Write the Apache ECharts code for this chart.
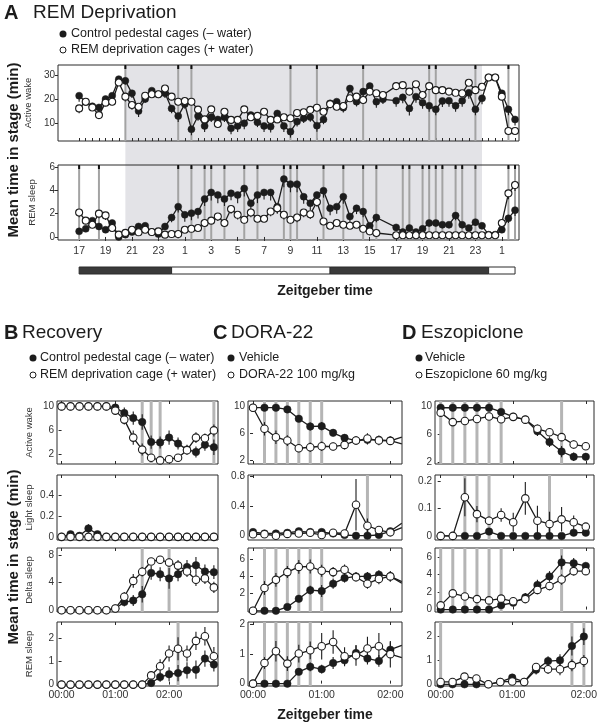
<!DOCTYPE html>
<html><head><meta charset="utf-8">
<script src="https://cdn.jsdelivr.net/npm/echarts@6/dist/echarts.min.js"></script>
<style>html,body{margin:0;padding:0;background:#fff}#c{width:600px;height:727px}</style>
</head><body><div id="c"></div>
<script>
const FONT = '"Liberation Sans", Arial, Helvetica, sans-serif';

// ================= DATA =================
// Panel A: 30-min bins starting at ZT17 (hours continue past 24 into the next days)
const aStartHour = 17;
const aBinHours = 0.5;
const aWakeCtrl = [21.4,18.8,17,16.5,20,21.4,28.3,27.6,22.4,15,20,23.5,22,22.4,16.1,12.9,17.9,7.4,12.9,8.8,12.4,11.5,12.4,7.8,8.8,9.9,13.3,10.3,8.8,8.5,14,8.8,6.4,10.6,12,12.5,8.9,11.5,18.2,18.9,16.4,24.4,18.9,23.1,25.4,18.9,19.9,null,19.3,20.7,16.1,21,18.5,17.2,15.7,19.2,19.3,17.2,19.3,22.6,15.7,20.3,29,29,22.4,15.7,11.5];
const aWakeCtrlErr = [2.5,1.5,1.5,2,2,1.5,1.5,1.5,2,2.5,1.5,1.5,1.5,2,2,2.5,2,2.5,2,2.5,2,2,2,2.5,2.5,2.5,2,2,2.5,2.5,2,2.5,2.5,2,2,2,2.5,2,2,2,2,2,2,2,2,2.5,2,0,2.5,2.5,3,2.5,2.5,2.5,2.5,2.5,2.5,2.5,2.5,2.5,2.5,2.5,1,1,2.5,2.5,2.5];
const aWakeREMD = [16.1,18.9,16.5,13.3,18.5,18.9,26.9,21,17.5,16.8,21.4,22,22,24.4,21,18.9,19.2,18.9,15.6,11.5,15.7,9.6,14.7,11.3,11.3,15.7,12.4,13,14.7,11.3,11.5,12.4,12,14.2,14.5,15.5,16.4,14.7,17.9,16.8,17.1,20.3,21,19.6,23.1,22.4,21.7,null,25.4,25.8,23.1,26.2,21.7,25.4,23.7,23.7,23.1,22.6,22.4,26.8,23.7,25.1,29,29,21,6.7,6.7];
const aWakeREMDErr = [2,1.5,1,1.5,1.5,1.5,1.5,2,2,1.5,1.5,1,1,1,1.5,1.5,1,1.5,1.5,2,1.5,1.5,1.5,1.5,1.5,1.5,1.5,1.5,1.5,1.5,1.5,1.5,1.5,1.5,1.5,1.5,1.5,1.5,1.5,1.5,1.5,1.5,1.5,1.5,1.5,1.5,1.5,0,1,1,1.5,1,1.5,1,1,1,1,1,1,1,1,1,1,1,1.5,1,1];
const aRemCtrl = [0.48,0.7,1.4,0.9,0.62,1.2,0,0.2,0.42,0.9,0.96,0.42,0.25,0.9,1.67,2.6,1.9,2.04,2.18,3.26,3.82,3.6,3.26,3.74,3.6,4.16,2.9,3.6,3.82,3.82,2.6,4.96,4.53,4.53,3.45,2.9,3.6,3.97,2.46,2.6,3.45,1.76,2.46,2.18,0.96,1.67,null,null,0.82,0.42,0.77,0.42,0.7,1.2,1.2,1.05,1.05,1.84,1.05,0.77,1.27,0.96,0.2,0.2,0.62,1.6,2.3];
const aRemCtrlErr = [0.2,0.2,0.3,0.3,0.2,0.3,0,0.1,0.2,0.3,0.3,0.2,0.1,0.3,0.4,0.5,0.6,0.6,0.6,0.6,0.7,0.7,0.6,0.6,0.7,0.7,0.6,0.7,0.6,0.7,0.6,0.7,0.7,0.7,0.6,0.6,0.6,0.6,0.6,0.6,0.6,0.5,0.5,0.5,0.3,0.4,0,0,0.3,0.2,0.3,0.2,0.3,0.3,0.3,0.3,0.3,0.4,0.3,0.2,0.3,0.3,0.1,0.1,0.2,0.4,0.5];
const aRemREMD = [2.1,1.4,1.05,2.0,1.85,0.77,0.2,0.35,0.62,0.4,0.62,0.42,0.48,0.2,0.25,0.25,0.62,0.7,0.77,1.2,1.4,1.76,1.2,2.4,1.9,1.47,2.1,1.56,1.56,2.18,2.46,1.9,1.47,1.67,2.1,1.95,3.0,1.33,0.96,1.2,1.05,0.96,1.05,0.7,0.48,0.34,null,null,0.15,0.15,0.15,0.15,0.15,0.15,0.15,0.15,0.15,0.15,0.15,0.15,0.15,0.15,0.15,0.15,1.2,3.74,4.45];
const aRemREMDErr = [0.4,0.3,0.3,0.4,0.4,0.2,0.1,0.1,0.2,0.1,0.2,0.1,0.1,0.1,0.1,0.1,0.2,0.2,0.2,0.3,0.3,0.4,0.3,0.4,0.4,0.3,0.4,0.3,0.3,0.4,0.4,0.4,0.3,0.4,0.4,0.4,0.4,0.3,0.2,0.3,0.2,0.2,0.2,0.2,0.1,0.1,0,0,0.05,0.05,0.05,0.05,0.05,0.05,0.05,0.05,0.05,0.05,0.05,0.05,0.05,0.05,0.05,0.05,0.3,0.5,0.5];
const aWakeSigBins = [7,15,17,32,36,43,53,54,60,65];
const aRemSigBins = [0,3,15,17,19,20,22,25,27,31,32,33,37,40,43,45,49,50,52,53,54,55,57,58,60,65,66];
const aDeprivationHours = [20.5, 47.5];
const aLightDark = [[17,24,1],[24,36,0],[36,48,1],[48,50,0]]; // 1 = dark
const aHourLabels = [17,19,21,23,25,27,29,31,33,35,37,39,41,43,45,47,49];

// Panel B: Recovery, 10-min bins
const bMin = [0,10,20,30,40,50,60,70,80,90,100,110,120,130,140,150,160,170];
const bWakeCtrl = [10,10,10,10,10,10,9.8,8.9,8.05,7.4,4.05,4.0,4.8,3.8,2.8,2.4,3.6,3.2];
const bWakeCtrlErr = [0,0,0,0,0,0,0.3,0.9,1.1,1.3,1.1,1.0,1.2,1.0,0.8,0.9,1.0,1.3];
const bWakeREMD = [10,10,10,10,10,10,9.3,7.8,4.8,2.8,1.45,1.0,1.2,1.45,2.7,4.8,4.7,6.0];
const bWakeREMDErr = [0,0,0,0,0,0,0.3,0.8,1.2,1.0,0.6,0.4,0.4,0.5,0.7,0.9,0.8,1.0];
const bLightCtrl = [0,0.025,0.01,0.08,0.025,0,0,0,0,0,0,0,0,0,0,0,0,0];
const bLightCtrlErr = [0,0.01,0,0.04,0.015,0,0,0,0,0,0,0,0,0,0,0,0,0];
const bLightREMD = [0,0,0,0,0,0,0,0,0,0,0,0,0,0,0,0,0,0];
const bLightREMDErr = [0,0,0,0,0,0,0,0,0,0,0,0,0,0,0,0,0,0];
const bDeltaCtrl = [0,0,0,0,0,0,0.25,1.17,1.4,2.3,5.4,5.2,4.6,5.2,6.25,6.5,5.6,5.5];
const bDeltaCtrlErr = [0,0,0,0,0,0,0.2,0.6,0.8,1.2,1.0,1.0,1.5,1.0,1.0,1.2,1.0,1.0];
const bDeltaREMD = [0,0,0,0,0,0,0.25,1.95,4.24,5.56,7.05,7.3,6.9,6.45,5.6,4.4,4.6,3.3];
const bDeltaREMDErr = [0,0,0,0,0,0,0.2,0.7,1.0,0.7,0.5,0.5,0.6,0.8,0.8,0.9,0.8,0.8];
const bRemCtrl = [0,0,0,0,0,0,0,0,0,0,0.07,0.33,0.45,0.5,0.62,0.65,1.13,0.87];
const bRemCtrlErr = [0,0,0,0,0,0,0,0,0,0,0.05,0.2,0.3,0.35,0.35,0.4,0.35,0.3];
const bRemREMD = [0,0,0,0,0,0,0,0,0,0,0.4,0.8,1.35,1.56,1.35,1.9,2.1,1.23];
const bRemREMDErr = [0,0,0,0,0,0,0,0,0,0,0.1,0.3,0.35,0.5,0.35,0.4,0.4,0.4];
const bSig = {wake:[90,100,110,170], light:[], delta:[90,120], rem:[130]};

// Panel C: DORA-22 (last bin runs off the right edge)
const cMin = [0,10,20,30,40,50,60,70,80,90,100,110,120,130];
const cWakeVeh = [9.8,9.8,9.8,9.55,8.15,7.0,7.05,6.05,5.3,4.9,5.0,5.0,4.9,4.4];
const cWakeVehErr = [0,0,0,0.3,0.5,0.6,0.6,0.5,0.5,0.6,0.7,0.6,0.6,0];
const cWakeDora = [9.8,6.65,5.4,4.9,3.75,3.9,4.05,4.0,4.25,4.9,5.2,4.9,4.85,5.4];
const cWakeDoraErr = [0,1.0,1.0,0.8,0.6,0.7,0.7,0.6,0.7,0.6,0.8,0.7,0.6,0];
const cLightVeh = [0.05,0.03,0.03,0.04,0.06,0.05,0.05,0.03,0.01,0,0,0.01,0.06,0.17];
const cLightVehErr = [0.01,0.01,0.01,0.01,0.02,0.01,0.02,0.01,0.01,0,0,0.01,0.03,0];
const cLightDora = [0.02,0.02,0,0.025,0.03,0.04,0.01,0.04,0.03,0.42,0.135,0.077,0.046,0.11];
const cLightDoraErr = [0.01,0.01,0,0.01,0.01,0.01,0.01,0.02,0.02,0.35,0.1,0.05,0.03,0];
const cDeltaVeh = [0,0,0,0.45,1.4,2.4,2.3,3.15,3.8,4.0,4.0,4.2,4.0,3.4];
const cDeltaVehErr = [0,0,0,0.2,0.4,0.5,0.7,0.6,0.5,0.5,0.5,0.5,0.6,0];
const cDeltaDora = [0,2.65,3.6,4.5,5.1,5.15,4.65,4.5,4.77,3.9,3.15,3.7,4.0,3.2];
const cDeltaDoraErr = [0,0.8,0.8,0.7,0.8,0.8,0.7,0.6,0.6,0.5,0.6,0.6,0.6,0];
const cRemVeh = [0,0,0,0,0.4,0.57,0.49,0.7,0.79,1.04,0.85,0.77,1.15,1.3];
const cRemVehErr = [0,0,0,0,0.1,0.15,0.15,0.2,0.2,0.25,0.2,0.2,0.25,0];
const cRemDora = [0,0.7,1.1,0.68,1.02,1.13,1.27,1.41,0.93,0.96,1.19,1.27,1.0,0.88];
const cRemDoraErr = [0,0.2,0.35,0.25,0.3,0.3,0.45,0.4,0.3,0.35,0.4,0.45,0.45,0];
const cSig = {wake:[10,20,30,40,50,60], light:[100], delta:[10,20,30,40,50,60], rem:[10,20,30,40,50]};

// Panel D: Eszopiclone
const dMin = [0,10,20,30,40,50,60,70,80,90,100,110,120];
const dWakeVeh = [9.8,9.8,9.8,9.8,9.8,9.2,8.5,8.1,6.45,4.9,3.55,2.8,2.8];
const dWakeVehErr = [0,0,0,0,0,0.3,0.4,0.5,0.7,0.7,0.8,0.6,0.5];
const dWakeEsz = [9.1,7.75,7.9,8.2,8.55,8.15,8.5,8.1,6.8,6.3,5.6,4.55,4.3];
const dWakeEszErr = [0.3,0.4,0.3,0.3,0.3,0.3,0.4,0.5,0.6,0.6,0.6,0.6,0.4];
const dLightVeh = [0,0,0,0,0.016,0,0,0,0,0,0,0.012,0.012];
const dLightVehErr = [0,0,0,0,0.01,0,0,0,0,0,0,0.008,0.008];
const dLightEsz = [0,0,0.142,0.08,0.056,0.077,0.05,0.138,0.056,0.044,0.061,0.05,0.034];
const dLightEszErr = [0,0,0.07,0.03,0.015,0.025,0.035,0.06,0.055,0.045,0.045,0.025,0.012];
const dDeltaVeh = [0,0,0,0,0,0.5,0.78,1.4,2.8,3.8,5.4,5.3,5.0];
const dDeltaVehErr = [0,0,0,0,0,0.2,0.3,0.5,0.6,0.6,0.8,0.6,0.4];
const dDeltaEsz = [0.48,1.85,1.5,1.2,1.05,1.25,0.95,1.2,2.25,2.7,3.45,4.4,4.4];
const dDeltaEszErr = [0.1,0.3,0.3,0.3,0.3,0.3,0.3,0.4,0.5,0.5,0.6,0.5,0.4];
const dRemVeh = [0,0,0,0,0,0.1,0.28,0.1,0.61,0.97,1.0,1.6,1.99];
const dRemVehErr = [0,0,0,0,0,0.05,0.15,0.05,0.2,0.2,0.25,0.4,0.35];
const dRemEsz = [0.1,0.1,0.32,0.24,0,0.1,0.12,0.1,0.72,0.63,0.63,0.8,0.97];
const dRemEszErr = [0.05,0.05,0.08,0.08,0,0.05,0.05,0.05,0.15,0.2,0.25,0.25,0.25];
const dSig = {wake:[0,10,20,30,40,50,100], light:[20,30,40,90], delta:[0,10,20,30,40,50,100], rem:[0,110,120]};

const clockTicks = [0,60,120];

// ================= BUILD =================
const grids=[], xAxis=[], yAxis=[], series=[];
const INK = '#1c1c1c';

function panel(g){
  const gi = grids.length;
  grids.push({left:g.left, top:g.top, width:g.width, height:g.height, show:!g.hidden,
    borderColor:'#2b2b2b', borderWidth:1, backgroundColor:'transparent'});
  const xi = xAxis.length;
  xAxis.push({type:'value', gridIndex:gi, min:g.xmin, max:g.xmax, show:!g.hidden, position:'bottom',
    axisLine:{show:false}, splitLine:{show:false},
    axisTick:{show:!!g.xTicks, inside:g.tickInside!==false, length:g.tickLen||3, customValues:g.xTicks||[], lineStyle:{color:'#2b2b2b',width:1}},
    axisLabel:{show:!!g.xLabels, customValues:g.xLabels||[], formatter:g.xFmt, color:'#333', fontSize:10.5, fontFamily:FONT, margin:g.labelMargin||5}});
  if (g.topTicks) {
    xAxis.push({type:'value', gridIndex:gi, min:g.xmin, max:g.xmax, position:'top',
      axisLine:{show:false}, splitLine:{show:false},
      axisTick:{show:true, inside:true, length:3, customValues:g.topTicks, lineStyle:{color:'#2b2b2b'}},
      axisLabel:{show:false}});
  }
  const yi = yAxis.length;
  yAxis.push({type:'value', gridIndex:gi, min:g.ymin, max:g.ymax, show:!g.hidden,
    axisLine:{show:false}, splitLine:{show:false},
    axisTick:{show:!!g.yTicks, length:3, customValues:g.yTicks||[], lineStyle:{color:'#2b2b2b'}},
    axisLabel:{show:!!g.yTicks, customValues:g.yTicks||[], color:'#333', fontSize:10, fontFamily:FONT, margin:3},
    name:g.yName||'', nameLocation:'middle', nameRotate:90, nameGap:g.nameGap||24,
    nameTextStyle:{fontSize:9.5, color:'#333', fontFamily:FONT}});
  return {xi, yi};
}

function line(ax, xs, ys, filled, trailingNoSymbol, size){
  series.push({type:'line', xAxisIndex:ax.xi, yAxisIndex:ax.yi, z:filled?4:5,
    data: xs.map((x,i)=>{ const it={value:[x, ys[i]==null?'-':ys[i]]}; if(trailingNoSymbol && i===xs.length-1) it.symbol='none'; return it; }),
    connectNulls:true, symbol:'circle', symbolSize:size||7.5, showSymbol:true, clip:true, silent:true, animation:false,
    lineStyle:{color:INK, width:1.3},
    itemStyle: filled ? {color:INK, borderColor:INK, borderWidth:0.5} : {color:'#fff', borderColor:INK, borderWidth:1.1}});
}

// down = true draws only the lower half of the error bar
function errs(ax, xs, ys, es, down){
  const data = xs.map((x,i)=>[x, ys[i], es[i]]).filter(d=>d[1]!=null && d[2]>0);
  series.push({type:'custom', xAxisIndex:ax.xi, yAxisIndex:ax.yi, z:3, silent:true, animation:false, clip:true,
    data, encode:{x:0, y:1},
    renderItem:(p,api)=>{ const x=api.value(0), y=api.value(1), e=api.value(2);
      const a=api.coord([x,y-e]), b=api.coord([x, down ? y : y+e]);
      return {type:'line', shape:{x1:a[0],y1:a[1],x2:b[0],y2:b[1]}, style:{stroke:INK, lineWidth:1.1}}; }});
}

function sig(ax, xs, opt){
  if(!xs.length) return;
  series.push({type:'custom', xAxisIndex:ax.xi, yAxisIndex:ax.yi, z:1, silent:true, animation:false, clip:false,
    data: xs.map(x=>[x,0]), encode:{x:0, y:1},
    renderItem:(p,api)=>{ const cs=p.coordSys; const px=api.coord([api.value(0),0])[0];
      const ch=[{type:'rect', shape:{x:px-opt.w/2, y:cs.y, width:opt.w, height:cs.height}, style:{fill:opt.color}}];
      if(opt.cap) ch.push({type:'rect', shape:{x:px-1, y:cs.y, width:2, height:4}, style:{fill:'#111'}});
      return {type:'group', children:ch}; }});
}

// ---- Panel A ----
const aHours = aWakeCtrl.map((_,i)=>aStartHour + i*aBinHours);
const aX = {xmin:15.4, xmax:50.3, left:58, width:461};
const halfHourTicks = aHours.slice();
const aFmt = v => String(v % 24);

const aShade = panel({...aX, top:65, height:175, hidden:true, ymin:0, ymax:1});
series.push({type:'custom', xAxisIndex:aShade.xi, yAxisIndex:aShade.yi, z:-10, silent:true, animation:false,
  data:[aDeprivationHours], encode:{x:[0,1]},
  renderItem:(p,api)=>{ const cs=p.coordSys; const a=api.coord([api.value(0),0])[0], b=api.coord([api.value(1),0])[0];
    return {type:'rect', shape:{x:a, y:cs.y, width:b-a, height:cs.height}, style:{fill:'#e3e3e7'}}; }});

const aW = panel({...aX, top:65, height:76, ymin:2.5, ymax:34.2, yTicks:[10,20,30], xTicks:halfHourTicks, tickInside:true, tickLen:3, yName:'Active wake', nameGap:21});
sig(aW, aWakeSigBins.map(i=>aHours[i]), {w:2, color:'#a3a3a3', cap:true});
errs(aW, aHours, aWakeCtrl, aWakeCtrlErr, true);
errs(aW, aHours, aWakeREMD, aWakeREMDErr, true);
line(aW, aHours, aWakeCtrl, true, false, 7);
line(aW, aHours, aWakeREMD, false, false, 7);

const aR = panel({...aX, top:165, height:75, ymin:-0.26, ymax:6.17, yTicks:[0,2,4,6], xTicks:aHourLabels, tickInside:false, tickLen:4, xLabels:aHourLabels, xFmt:aFmt, labelMargin:6, yName:'REM sleep', nameGap:21});
sig(aR, aRemSigBins.map(i=>aHours[i]), {w:2, color:'#a3a3a3', cap:true});
errs(aR, aHours, aRemCtrl, aRemCtrlErr, true);
errs(aR, aHours, aRemREMD, aRemREMDErr, true);
line(aR, aHours, aRemCtrl, true, false, 7);
line(aR, aHours, aRemREMD, false, false, 7);

const aLD = panel({...aX, top:267, height:7, hidden:true, ymin:0, ymax:1});
series.push({type:'custom', xAxisIndex:aLD.xi, yAxisIndex:aLD.yi, z:2, silent:true, animation:false,
  data:aLightDark, encode:{x:[0,1]},
  renderItem:(p,api)=>{ const cs=p.coordSys; const a=api.coord([api.value(0),0])[0], b=api.coord([api.value(1),0])[0];
    return {type:'rect', shape:{x:a, y:cs.y, width:b-a, height:cs.height}, style:{fill: api.value(2)?'#3a3a3a':'#fff', stroke:'#2b2b2b', lineWidth:1}}; }});

// ---- Panels B, C, D ----
const rows = [{top:401,height:63},{top:475,height:65},{top:548,height:64},{top:622,height:64}];
const clockFmt = m => '0' + Math.floor(m/60) + ':00';
const sigStyle = {w:3, color:'#b5b5b5', cap:false};

function column(cfg){
  cfg.stages.forEach((st, r)=>{
    const last = r === cfg.stages.length-1;
    const ax = panel({left:cfg.left, width:cfg.width, top:rows[r].top, height:rows[r].height,
      xmin:cfg.xmin, xmax:cfg.xmax, ymin:st.ymin, ymax:st.ymax, yTicks:st.ticks,
      xTicks:clockTicks, tickInside:true, topTicks:clockTicks,
      xLabels: last ? clockTicks : null, xFmt: clockFmt, labelMargin:4,
      yName: cfg.names ? st.name : '', nameGap:23});
    sig(ax, st.sig, sigStyle);
    errs(ax, cfg.x, st.a, st.ae);
    errs(ax, cfg.x, st.b, st.be);
    line(ax, cfg.x, st.a, true, cfg.trailing);
    line(ax, cfg.x, st.b, false, cfg.trailing);
  });
}

column({left:57, width:161, xmin:-5.1, xmax:174.6, x:bMin, names:true, stages:[
  {name:'Active wake', ymin:0.4, ymax:10.9, ticks:[2,6,10], a:bWakeCtrl, ae:bWakeCtrlErr, b:bWakeREMD, be:bWakeREMDErr, sig:bSig.wake},
  {name:'Light sleep', ymin:-0.03, ymax:0.59, ticks:[0,0.2,0.4], a:bLightCtrl, ae:bLightCtrlErr, b:bLightREMD, be:bLightREMDErr, sig:bSig.light},
  {name:'Delta sleep', ymin:-0.26, ymax:9.0, ticks:[0,4,8], a:bDeltaCtrl, ae:bDeltaCtrlErr, b:bDeltaREMD, be:bDeltaREMDErr, sig:bSig.delta},
  {name:'REM sleep', ymin:-0.06, ymax:2.72, ticks:[0,1,2], a:bRemCtrl, ae:bRemCtrlErr, b:bRemREMD, be:bRemREMDErr, sig:bSig.rem}]});

column({left:248, width:154, xmin:-4.4, xmax:130.2, x:cMin, trailing:true, stages:[
  {ymin:1.4, ymax:10.8, ticks:[2,6,10], a:cWakeVeh, ae:cWakeVehErr, b:cWakeDora, be:cWakeDoraErr, sig:cSig.wake},
  {ymin:-0.058, ymax:0.823, ticks:[0,0.4,0.8], a:cLightVeh, ae:cLightVehErr, b:cLightDora, be:cLightDoraErr, sig:cSig.light},
  {ymin:-0.14, ymax:7.3, ticks:[2,4,6], a:cDeltaVeh, ae:cDeltaVehErr, b:cDeltaDora, be:cDeltaDoraErr, sig:cSig.delta},
  {ymin:-0.08, ymax:2.09, ticks:[0,1,2], a:cRemVeh, ae:cRemVehErr, b:cRemDora, be:cRemDoraErr, sig:cSig.rem}]});

column({left:435, width:159, xmin:-4.7, xmax:126.8, x:dMin, stages:[
  {ymin:1.77, ymax:10.76, ticks:[2,6,10], a:dWakeVeh, ae:dWakeVehErr, b:dWakeEsz, be:dWakeEszErr, sig:dSig.wake},
  {ymin:-0.015, ymax:0.224, ticks:[0,0.1,0.2], a:dLightVeh, ae:dLightVehErr, b:dLightEsz, be:dLightEszErr, sig:dSig.light},
  {ymin:-0.28, ymax:7.05, ticks:[0,2,4,6], a:dDeltaVeh, ae:dDeltaVehErr, b:dDeltaEsz, be:dDeltaEszErr, sig:dSig.delta},
  {ymin:-0.07, ymax:2.6, ticks:[0,1,2], a:dRemVeh, ae:dRemVehErr, b:dRemEsz, be:dRemEszErr, sig:dSig.rem}]});

// ---- Texts & legends ----
function txt(x, y, text, font, align, rot){
  return {type:'text', x, y, rotation:rot||0, silent:true,
    style:{text, font:font + ' ' + FONT, fill:'#1c1c1c', align:align||'left', verticalAlign:'middle'}};
}
function dot(cx, cy, filled){
  return {type:'circle', silent:true, shape:{cx, cy, r: filled?3.5:3},
    style: filled ? {fill:INK} : {fill:'#fff', stroke:INK, lineWidth:1}};
}
const graphic = [
  txt(4, 13, 'A', 'bold 20px'), txt(33, 13, 'REM Deprivation', '19px'),
  dot(63, 34, true), txt(71, 34, 'Control pedestal cages (– water)', '12.5px'),
  dot(63, 50, false), txt(71, 50, 'REM deprivation cages (+ water)', '12.5px'),
  txt(14, 150, 'Mean time in stage (min)', 'bold 15px', 'center', Math.PI/2),
  txt(325, 291, 'Zeitgeber time', 'bold 14px', 'center'),

  txt(4, 333, 'B', 'bold 20px'), txt(22, 333, 'Recovery', '19px'),
  dot(33, 358, true), txt(40, 358, 'Control pedestal cage (– water)', '12.5px'),
  dot(33, 375, false), txt(40, 375, 'REM deprivation cage (+ water)', '12.5px'),
  txt(213, 333, 'C', 'bold 20px'), txt(231, 333, 'DORA-22', '19px'),
  dot(231, 358, true), txt(239, 358, 'Vehicle', '12.5px'),
  dot(231, 375, false), txt(239, 375, 'DORA-22 100 mg/kg', '12.5px'),
  txt(402, 333, 'D', 'bold 20px'), txt(421, 333, 'Eszopiclone', '19px'),
  dot(419, 358, true), txt(425, 358, 'Vehicle', '12.5px'),
  dot(419, 375, false), txt(425, 375, 'Eszopiclone 60 mg/kg', '12.5px'),
  txt(14, 557, 'Mean time in stage (min)', 'bold 15px', 'center', Math.PI/2),
  txt(325, 715, 'Zeitgeber time', 'bold 14px', 'center')
];

const chart = echarts.init(document.getElementById('c'), null, {renderer:'canvas', width:600, height:727});
chart.setOption({animation:false, backgroundColor:'#fff', grid:grids, xAxis, yAxis, series, graphic});
</script>
</body></html>
